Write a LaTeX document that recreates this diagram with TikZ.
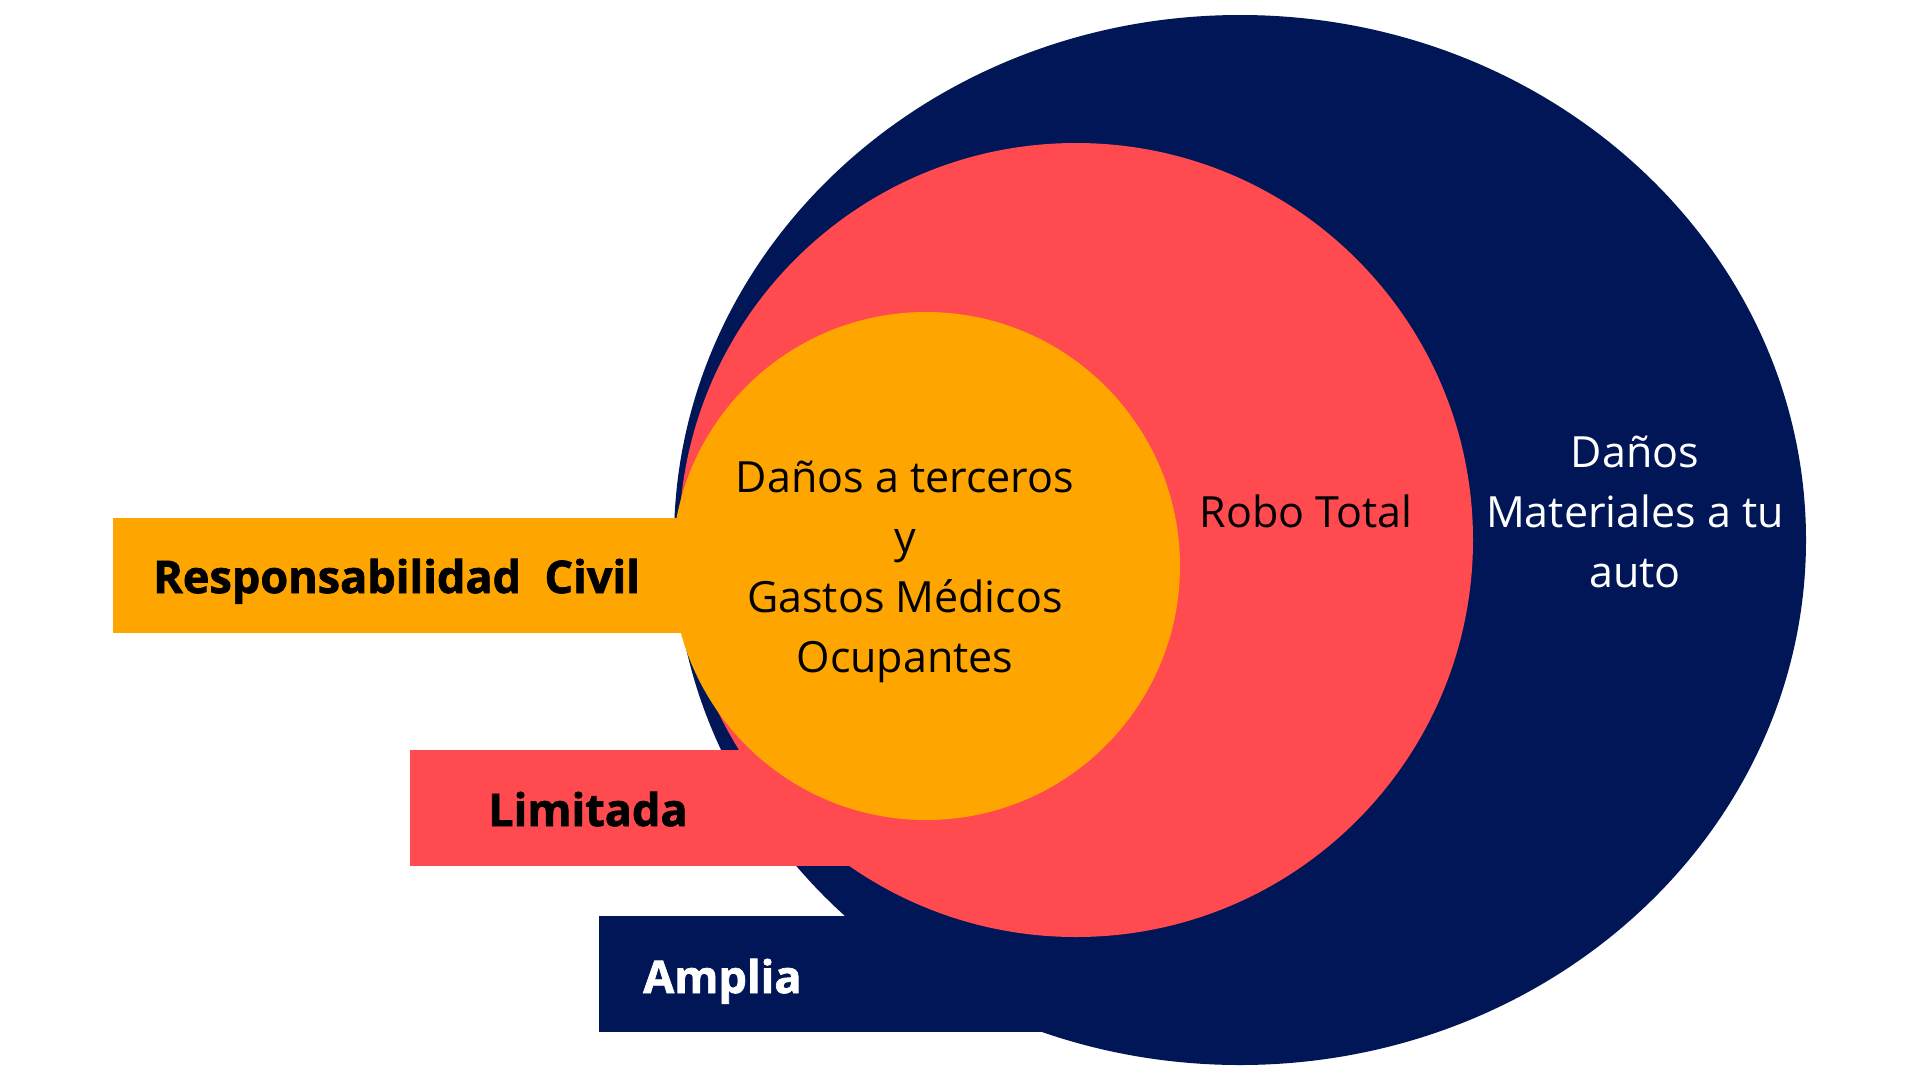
\documentclass[tikz,border=0pt]{standalone}
\usepackage{fontspec}
\setmainfont{Open Sans}
\newfontfamily\heavyfont[BoldFeatures={FakeBold=1.6}]{Open Sans}
\definecolor{navy}{RGB}{1,22,86}
\definecolor{coral}{RGB}{255,74,79}
\definecolor{amber}{RGB}{255,165,0}
\begin{document}
\begin{tikzpicture}[x=1pt,y=-1pt,
  body/.style={font=\fontsize{43}{60}\selectfont, align=center, inner sep=0pt, anchor=base},
  lbl/.style={font=\heavyfont\fontsize{45}{54}\selectfont\bfseries, inner sep=0pt, anchor=base west}]
\useasboundingbox (0,0) rectangle (1920,1080);
\fill[white] (0,0) rectangle (1920,1080);
% navy level: Amplia
\fill[navy] (1240,540) ellipse [x radius=566, y radius=525];
\fill[navy] (599,916) rectangle (1100,1032);
% red level: Limitada
\fill[coral] (1076,540) circle [radius=397];
\fill[coral] (410,750) rectangle (900,866);
% orange level: Responsabilidad Civil
\fill[amber] (113,518) rectangle (700,633);
\fill[amber] (926,566) circle [radius=254];
% texts (base anchor = baseline of the last line)
\node[body, text=black] (terceros) at (905,672) {Daños a terceros\\y\\Gastos Médicos\\Ocupantes};
\node[body, text=black] (robo) at (1306,527) {Robo Total};
\node[body, text=white] (materiales) at (1635,587) {Daños\\Materiales a tu\\auto};
\node[lbl, text=black] (rc) at (153,593) {Responsabilidad\ \ Civil};
\node[lbl, text=black] (limitada) at (488,826) {Limitada};
\node[lbl, text=white] (amplia) at (643,993) {Amplia};
\end{tikzpicture}
\end{document}
